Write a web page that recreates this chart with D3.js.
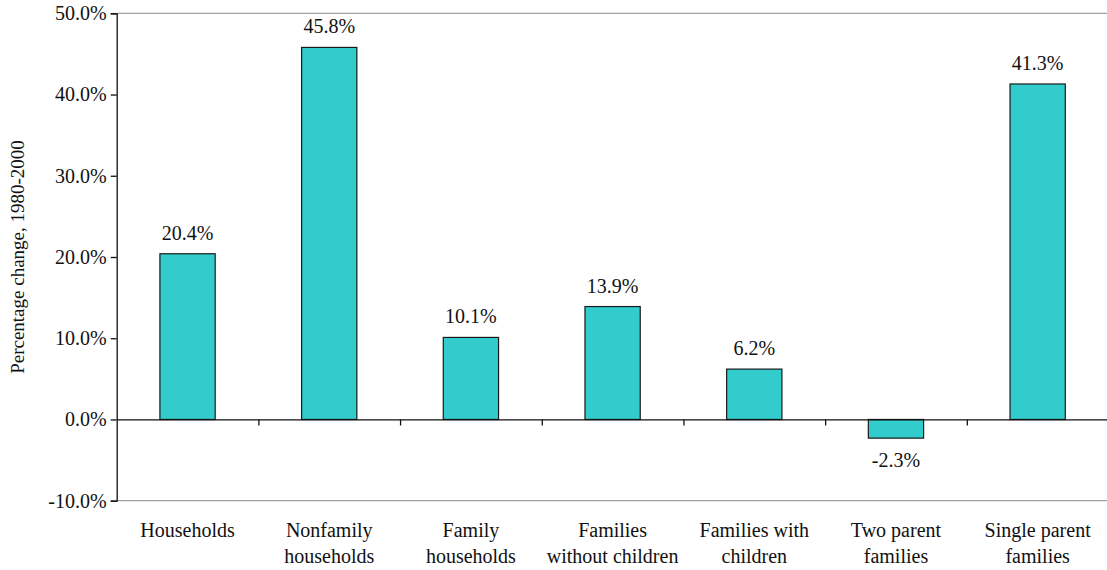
<!DOCTYPE html>
<html>
<head>
<meta charset="utf-8">
<script src="https://cdn.jsdelivr.net/npm/d3@7"></script>
<style>
  html, body { margin: 0; padding: 0; background: #fff; }
  svg { display: block; }
  svg text, svg tspan { font-family: "Liberation Serif", "DejaVu Serif", serif !important; fill: #111; }
</style>
</head>
<body>
<svg id="chart" width="1107" height="570"></svg>
<script>
// Household change by type, 1980-2000
const categories = [
  ["Households"],
  ["Nonfamily", "households"],
  ["Family", "households"],
  ["Families", "without children"],
  ["Families with", "children"],
  ["Two parent", "families"],
  ["Single parent", "families"]
];
const values = [20.4, 45.8, 10.1, 13.9, 6.2, -2.3, 41.3];
const yTicks = [-10, 0, 10, 20, 30, 40, 50];
const yTitle = "Percentage change, 1980-2000";

const FONT = '"Liberation Serif", "DejaVu Serif", serif';
const svg = d3.select("#chart");
const margin = { left: 116.7, top: 13.3, right: -1.5, bottom: 69.3 };
const W = 1107, H = 570;

const x = d3.scaleBand()
  .domain(d3.range(categories.length))
  .range([margin.left, W - margin.right])
  .paddingInner(0.61)
  .paddingOuter(0.305);

const xOuter = d3.scaleBand()
  .domain(d3.range(categories.length))
  .range([margin.left, W - margin.right]);

const y = d3.scaleLinear()
  .domain([-10, 50])
  .range([H - margin.bottom, margin.top]);

const fmt = d => d.toFixed(1) + "%";

// plot frame lines at top and bottom
svg.append("line")
  .attr("x1", margin.left).attr("x2", W)
  .attr("y1", y(50)).attr("y2", y(50))
  .attr("stroke", "#a0a0a0").attr("stroke-width", 1.3);
svg.append("line")
  .attr("x1", margin.left).attr("x2", W)
  .attr("y1", y(-10)).attr("y2", y(-10))
  .attr("stroke", "#a0a0a0").attr("stroke-width", 1.3);

// bars
svg.append("g").selectAll("rect")
  .data(values)
  .join("rect")
  .attr("x", (d, i) => x(i))
  .attr("width", x.bandwidth())
  .attr("y", d => y(Math.max(0, d)))
  .attr("height", d => Math.abs(y(d) - y(0)))
  .attr("fill", "#33cccc")
  .attr("stroke", "#1a1a1a")
  .attr("stroke-width", 1.2);

// y axis
const yAxis = d3.axisLeft(y)
  .tickValues(yTicks)
  .tickFormat(fmt)
  .tickSize(6)
  .tickPadding(4);
const gy = svg.append("g")
  .attr("transform", `translate(${margin.left},0)`)
  .call(yAxis)
  .attr("font-family", FONT)
  .attr("font-size", 20);
gy.select(".domain").attr("stroke", "#111").attr("stroke-width", 1.3);
gy.selectAll(".tick line").attr("stroke", "#111").attr("stroke-width", 1.3);
gy.selectAll(".tick text").attr("fill", "#111");

// zero line with category divider ticks
const boundaries = d3.range(1, categories.length).map(i => xOuter(i));
const xAxis = d3.axisBottom(d3.scaleLinear().domain([margin.left, W]).range([margin.left, W]))
  .tickValues(boundaries)
  .tickFormat("")
  .tickSize(6)
  .tickSizeOuter(0);
const gx = svg.append("g")
  .attr("transform", `translate(0,${y(0)})`)
  .call(xAxis);
gx.select(".domain").attr("stroke", "#111").attr("stroke-width", 1.3);
gx.selectAll(".tick line").attr("stroke", "#111").attr("stroke-width", 1.3);

// value labels
svg.append("g")
  .attr("font-family", FONT)
  .attr("font-size", 20)
  .selectAll("text")
  .data(values)
  .join("text")
  .attr("x", (d, i) => x(i) + x.bandwidth() / 2)
  .attr("y", d => d >= 0 ? y(d) - 14 : y(d) + 29)
  .attr("text-anchor", "middle")
  .text(fmt);

// category labels
const cat = svg.append("g")
  .attr("font-family", FONT)
  .attr("font-size", 20)
  .selectAll("text")
  .data(categories)
  .join("text")
  .attr("text-anchor", "middle")
  .attr("x", (d, i) => xOuter(i) + xOuter.bandwidth() / 2)
  .attr("y", 537);
cat.selectAll("tspan")
  .data(d => d)
  .join("tspan")
  .attr("x", function () { return d3.select(this.parentNode).attr("x"); })
  .attr("dy", (d, i) => i === 0 ? 0 : 25.8)
  .text(d => d);

// y axis title
svg.append("text")
  .attr("transform", `translate(24,${(y(50) + y(-10)) / 2}) rotate(-90)`)
  .attr("text-anchor", "middle")
  .attr("font-family", FONT)
  .attr("font-size", 19)
  .text(yTitle);
</script>
</body>
</html>
